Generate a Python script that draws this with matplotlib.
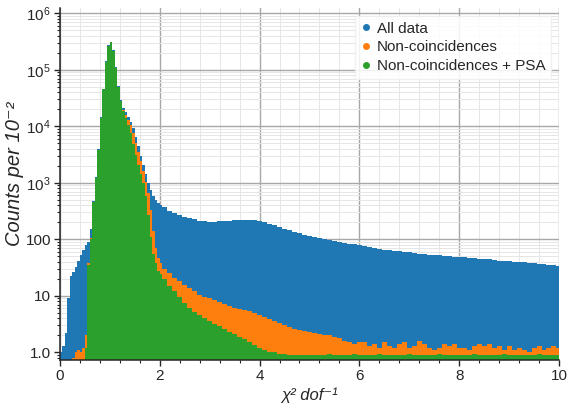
import matplotlib
matplotlib.use("Agg")
import matplotlib.pyplot as plt
import numpy as np
from matplotlib.lines import Line2D
from matplotlib.ticker import MultipleLocator, FixedLocator, FixedFormatter, NullFormatter

plt.rcParams['font.family'] = ['Liberation Sans', 'DejaVu Sans']

# bin edges: 0.05 wide up to 2.05, then 0.1 wide up to 10.05
edges = np.round(np.concatenate([np.linspace(0, 2.05, 42), np.linspace(2.15, 10.05, 80)]), 3)

# counts per 0.01
# bins centred 0.025 .. 0.525
blue_left = [1, 1.3, 2.2, 9, 22, 26, 33, 42, 52, 64, 78]
orange_left = [0, 0, 0, 0, 0, 0.8, 1.0, 1.1, 1.0, 1.2, 2]
green_left = [0, 0, 0, 0, 0, 0, 0, 0, 0, 0, 1.2]

# bins centred 0.575 .. 2.025
blue_peak = [90, 150, 480, 1250, 3900, 14500, 46000, 142000, 272000, 312000,
             222000, 112000, 52000, 29500, 21000, 18000, 14500, 12000, 9500, 6600,
             4500, 3000, 2100, 1450, 1000, 740, 590, 500, 445, 410]
orange_peak = [38, 105, 455, 1200, 3800, 14000, 45000, 140000, 270000, 310000,
               220000, 110000, 50000, 28500, 19500, 16000, 13000, 10500, 7500, 5000,
               3500, 2400, 1600, 1050, 650, 330, 140, 70, 46, 38]
green_peak = [35, 100, 450, 1200, 3800, 14000, 45000, 140000, 270000, 310000,
              220000, 110000, 50000, 28000, 19000, 14000, 10500, 7500, 4800, 3100,
              2050, 1450, 1000, 580, 270, 110, 55, 38, 28, 24]

# bins centred 2.1 .. 10.0
blue_tail = [370, 320, 290, 270, 252, 238, 225, 212, 208, 206,
             206, 207, 210, 214, 218, 221, 222, 220, 216, 210,
             200, 188, 176, 165, 154, 144, 135, 127, 120, 114,
             108, 104, 100, 96, 92, 89, 86, 84, 82, 80,
             76, 74, 71, 68, 66, 64, 62, 61, 60, 59,
             57, 56, 54, 53, 53, 52, 51, 50, 49, 48,
             48, 47, 46, 45, 45, 44, 43, 42, 42, 41,
             40, 40, 39, 38, 38, 37, 36, 35, 35, 34]
orange_tail = [30, 25, 21, 18, 15.5, 13.5, 12, 10.5, 9.5, 9,
               8.3, 7.7, 7.2, 6.7, 6.2, 5.9, 5.6, 5.3, 5.0, 4.6,
               4.2, 3.9, 3.6, 3.3, 3.0, 2.8, 2.6, 2.5, 2.4, 2.3,
               2.2, 2.1, 2.0, 2.0, 1.9, 1.8, 1.6, 1.5, 1.4, 1.5,
               1.5, 1.3, 1.4, 1.2, 1.5, 1.3, 1.2, 1.4, 1.5, 1.2,
               1.3, 1.6, 1.4, 1.2, 1.1, 1.2, 1.4, 1.3, 1.4, 1.2,
               1.2, 1.1, 1.3, 1.4, 1.3, 1.4, 1.2, 1.3, 1.1, 1.3,
               1.1, 1.2, 1.1, 1.0, 1.2, 1.3, 1.1, 1.2, 1.3, 1.2]
green_tail = [20, 15, 12, 9.5, 7.5, 6.2, 5.2, 4.5, 4.0, 3.6,
              3.2, 2.9, 2.6, 2.3, 2.1, 1.9, 1.7, 1.5, 1.35, 1.2,
              1.1, 1.0, 1.0, 0.95, 0.95, 0.9, 0.9, 0.9, 0.9, 0.9,
              0.9, 0.88, 0.9, 0.92, 0.9, 0.88, 0.9, 0.9, 0.92, 0.9,
              0.88, 0.9, 0.9, 0.92, 0.9, 0.88, 0.9, 0.9, 0.9, 0.92,
              0.9, 0.88, 0.9, 0.9, 0.9, 0.92, 0.9, 0.88, 0.9, 0.9,
              0.9, 0.9, 0.92, 0.9, 0.88, 0.9, 0.9, 0.9, 0.92, 0.9,
              0.88, 0.9, 0.9, 0.9, 0.9, 0.92, 0.9, 0.88, 0.9, 0.9]

labels = ['All data', 'Non-coincidences', 'Non-coincidences + PSA']
colors = ['#1f77b4', '#ff7f0e', '#2ca02c']
series = [blue_left + blue_peak + blue_tail,
          orange_left + orange_peak + orange_tail,
          green_left + green_peak + green_tail]

y_ticks = [1, 10, 100, 1e3, 1e4, 1e5, 1e6]
y_ticklabels = ['1.0', '10', '100', r'$\mathregular{10^{3}}$', r'$\mathregular{10^{4}}$',
                r'$\mathregular{10^{5}}$', r'$\mathregular{10^{6}}$']

fig = plt.figure(figsize=(5.68, 4.07), dpi=100)
ax = fig.add_axes([0.1056, 0.1155, 0.8785, 0.865])

for vals, c in zip(series, colors):
    ax.stairs(vals, edges, fill=True, color=c, baseline=0.01, linewidth=0)

ax.set_yscale('log')
ax.set_xlim(0, 10)
ax.set_ylim(0.73, 1.25e6)

ax.set_axisbelow(True)
ax.grid(which='major', color='#a8a8a8', linewidth=1.0)
ax.grid(which='minor', color='#e6e6e6', linewidth=0.7)

ax.xaxis.set_major_locator(MultipleLocator(2))
ax.xaxis.set_minor_locator(MultipleLocator(0.4))
ax.yaxis.set_major_locator(FixedLocator(y_ticks))
ax.yaxis.set_major_formatter(FixedFormatter(y_ticklabels))
minor_y = [m * 10.0 ** k for k in range(0, 6) for m in range(2, 10)] + [0.8, 0.9]
ax.yaxis.set_minor_locator(FixedLocator(minor_y))
ax.yaxis.set_minor_formatter(NullFormatter())

for side in ['top', 'right']:
    ax.spines[side].set_visible(False)
for side in ['left', 'bottom']:
    ax.spines[side].set_color('0.15')
    ax.spines[side].set_linewidth(1.1)

ax.tick_params(which='major', direction='out', length=4, width=1, color='0.15',
               labelsize=11, labelcolor='0.15', pad=2.5)
ax.tick_params(which='minor', direction='out', length=2, width=0.8, color='0.15')

ax.set_xlabel('χ² dof⁻¹', fontsize=12, style='italic', color='0.15', labelpad=3)
ax.set_ylabel('Counts per 10⁻²', fontsize=14.5, style='italic', color='0.15')
ax.yaxis.set_label_coords(-0.072, 0.53)

handles = [Line2D([], [], marker='o', linestyle='none', markersize=4, color=c) for c in colors]
leg = ax.legend(handles, labels, loc='upper right', fontsize=11, handlelength=0.6,
                handletextpad=0.4, labelspacing=0.3, borderpad=0.4, fancybox=False,
                framealpha=0.85, edgecolor='#eeeeee')
for t in leg.get_texts():
    t.set_color('0.15')

fig.savefig('out.png', dpi=100)
